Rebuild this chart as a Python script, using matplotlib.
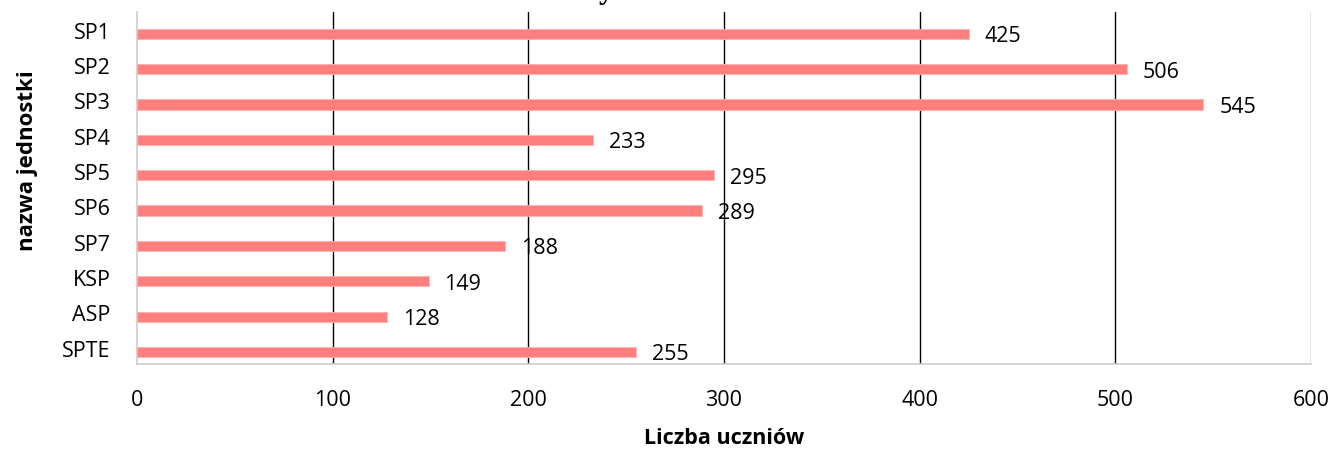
import matplotlib
matplotlib.use("Agg")
import matplotlib.pyplot as plt

categories = ["SP1", "SP2", "SP3", "SP4", "SP5", "SP6", "SP7", "KSP", "ASP", "SPTE"]
values = [425, 506, 545, 233, 295, 289, 188, 149, 128, 255]
xticks = [0, 100, 200, 300, 400, 500, 600]

plt.rcParams['font.family'] = ['Open Sans', 'DejaVu Sans']

W, H = 1335, 450
fig = plt.figure(figsize=(W / 100, H / 100), dpi=100)
ax = fig.add_axes([137 / W, 1 - 364 / H, (1311 - 137) / W, (364 - 12) / H])

pos = list(range(len(categories)))
ax.barh(pos, values, height=0.29, color="#FF7F7F", edgecolor="#FFB0B0", linewidth=0.6, zorder=3)
ax.set_xlim(0, 600)
ax.set_ylim(9.34, -0.62)

ax.set_xticks(xticks)
ax.set_xticklabels([str(t) for t in xticks], fontsize=15.5)
ax.set_yticks([p - 0.09 for p in pos])
ax.set_yticklabels(categories, fontsize=15.5)
ax.tick_params(axis="both", length=0)
ax.tick_params(axis="x", pad=19)
ax.tick_params(axis="y", pad=19)

for t in xticks[1:]:
    ax.axvline(t, color="black" if t < 600 else "#707070", linewidth=1.0, zorder=1)

for s in ["top", "right"]:
    ax.spines[s].set_visible(False)
ax.spines["left"].set_color("#D0D0D0")
ax.spines["bottom"].set_color("#D0D0D0")
ax.spines["left"].set_linewidth(1.3)
ax.spines["bottom"].set_linewidth(1.3)

for p, v in zip(pos, values):
    ax.annotate(str(v), xy=(v, p), xytext=(11.5, -2.0), textcoords="offset points",
                ha="left", va="center", fontsize=15.5, zorder=4)

fig.text(724 / W, 1 - 438 / H, "Liczba uczniów", ha="center", va="center",
         fontsize=15.5, fontweight="bold")
fig.text(28 / W, 1 - 161 / H, "nazwa jednostki", ha="center", va="center",
         rotation=90, fontsize=16, fontweight="bold")

# clipped title remnant at top
fig.text(606 / W, 1 + 2 / H, "y", ha="center", va="baseline",
         fontsize=22, fontweight="bold", family=["Liberation Serif"])

fig.savefig("out.png", dpi=100)
